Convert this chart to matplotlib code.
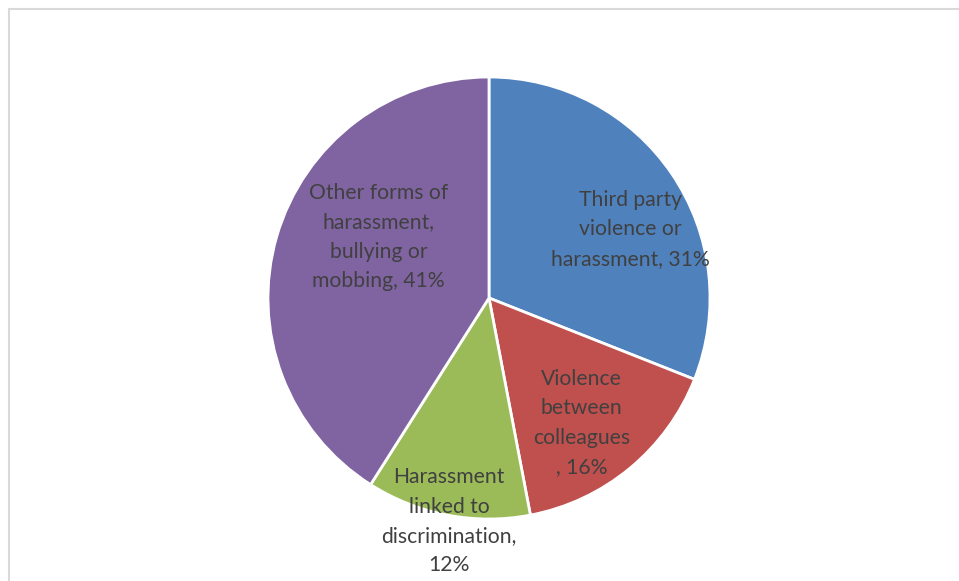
import matplotlib.pyplot as plt
from matplotlib.patches import Rectangle

# Slice data, clockwise from 12 o'clock
categories = [
    "Third party\nviolence or\nharassment",
    "Violence\nbetween\ncolleagues",
    "Harassment\nlinked to\ndiscrimination",
    "Other forms of\nharassment,\nbullying or\nmobbing",
]
shares = [31, 16, 12, 41]
colors = ["#4F81BD", "#C0504D", "#9BBB59", "#8064A2"]

# how the percentage is joined to each name
joins = [", ", "\n, ", ",\n", ", "]
# label anchor points, in units of the pie radius
label_xy = [(0.64, 0.31), (0.42, -0.565), (-0.18, -1.01), (-0.50, 0.275)]

W, H = 959, 581
fig = plt.figure(figsize=(W / 100, H / 100), dpi=100)

# thin light-grey chart-area border
fig.patches.append(Rectangle((9 / W, -0.02), 1.0, 1 - 9 / H + 0.02,
                             transform=fig.transFigure, fill=False,
                             edgecolor="#d9d9d9", linewidth=1.5))

cx, cy, r = 489, H - 298, 221
ax = fig.add_axes([(cx - r) / W, (cy - r) / H, 2 * r / W, 2 * r / H])
ax.pie(shares, colors=colors, startangle=90, counterclock=False,
       wedgeprops=dict(edgecolor="white", linewidth=2))
ax.set_xlim(-1, 1)
ax.set_ylim(-1, 1)

for name, v, j, (x, y) in zip(categories, shares, joins, label_xy):
    ax.text(x, y, f"{name}{j}{v}%", ha="center", va="center",
            fontsize=15.2, family="Lato", color="#404040",
            linespacing=1.58)

fig.savefig("out.png", dpi=100)
